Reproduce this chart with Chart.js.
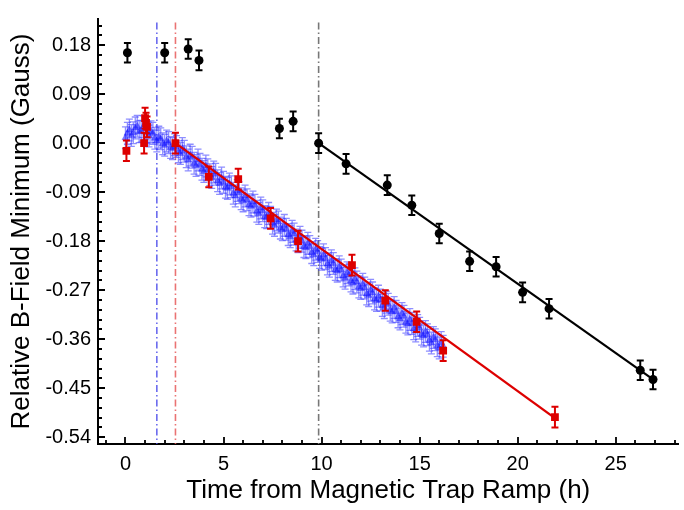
<!DOCTYPE html>
<html>
<head>
<meta charset="utf-8">
<script src="https://cdn.jsdelivr.net/npm/chart.js@4"></script>
<style>
  body { margin: 0; background: #fff; }
</style>
</head>
<body>
<canvas id="chart" width="684" height="510"></canvas>
<script>
// data
const blueX = [0.0, 0.1, 0.2, 0.3, 0.4, 0.5, 0.6, 0.7, 0.8, 0.9, 1.0, 1.1, 1.2, 1.3, 1.4, 1.5, 1.6, 1.7, 1.8, 1.9,
  2.0, 2.1, 2.2, 2.3, 2.4, 2.5, 2.6, 2.7, 2.8, 2.9, 3.0, 3.1, 3.2, 3.3, 3.4, 3.5, 3.6, 3.7, 3.8, 3.9,
  4.0, 4.1, 4.2, 4.3, 4.4, 4.5, 4.6, 4.7, 4.8, 4.9, 5.0, 5.1, 5.2, 5.3, 5.4, 5.5, 5.6, 5.7, 5.8, 5.9,
  6.0, 6.1, 6.2, 6.3, 6.4, 6.5, 6.6, 6.7, 6.8, 6.9, 7.0, 7.1, 7.2, 7.3, 7.4, 7.5, 7.6, 7.7, 7.8, 7.9,
  8.0, 8.1, 8.2, 8.3, 8.4, 8.5, 8.6, 8.7, 8.8, 8.9, 9.0, 9.1, 9.2, 9.3, 9.4, 9.5, 9.6, 9.7, 9.8, 9.9,
  10.0, 10.1, 10.2, 10.3, 10.4, 10.5, 10.6, 10.7, 10.8, 10.9, 11.0, 11.1, 11.2, 11.3, 11.4, 11.5, 11.6, 11.7, 11.8, 11.9,
  12.0, 12.1, 12.2, 12.3, 12.4, 12.5, 12.6, 12.7, 12.8, 12.9, 13.0, 13.1, 13.2, 13.3, 13.4, 13.5, 13.6, 13.7, 13.8, 13.9,
  14.0, 14.1, 14.2, 14.3, 14.4, 14.5, 14.6, 14.7, 14.8, 14.9, 15.0, 15.1, 15.2, 15.3, 15.4, 15.5, 15.6, 15.7, 15.8, 15.9,
  16.0, 16.1, 16.2];
const blueY = [0.010, 0.018, 0.024, 0.014, 0.019, 0.028, 0.031, 0.021, 0.022, 0.030, 0.027, 0.020, 0.013, 0.021, 0.018, 0.009, 0.004, 0.011, 0.008, -0.001,
  -0.004, 0.004, 0.001, -0.008, -0.010, -0.003, -0.006, -0.016, -0.019, -0.010, -0.015, -0.025, -0.031, -0.022, -0.026, -0.037, -0.041, -0.031, -0.039, -0.048,
  -0.052, -0.042, -0.049, -0.058, -0.063, -0.053, -0.057, -0.069, -0.074, -0.064, -0.072, -0.081, -0.083, -0.075, -0.080, -0.092, -0.097, -0.087, -0.091, -0.102,
  -0.106, -0.097, -0.104, -0.113, -0.116, -0.108, -0.114, -0.125, -0.129, -0.119, -0.124, -0.135, -0.137, -0.129, -0.136, -0.147, -0.151, -0.141, -0.145, -0.156,
  -0.159, -0.151, -0.158, -0.168, -0.172, -0.162, -0.167, -0.178, -0.181, -0.173, -0.180, -0.190, -0.192, -0.184, -0.190, -0.201, -0.205, -0.195, -0.199, -0.210,
  -0.213, -0.205, -0.212, -0.222, -0.226, -0.216, -0.221, -0.232, -0.235, -0.227, -0.233, -0.244, -0.248, -0.238, -0.242, -0.253, -0.257, -0.249, -0.255, -0.264,
  -0.267, -0.259, -0.266, -0.277, -0.280, -0.270, -0.275, -0.286, -0.289, -0.281, -0.288, -0.298, -0.302, -0.292, -0.296, -0.307, -0.310, -0.302, -0.309, -0.319,
  -0.323, -0.313, -0.318, -0.329, -0.332, -0.324, -0.331, -0.341, -0.345, -0.335, -0.340, -0.351, -0.354, -0.346, -0.352, -0.362, -0.367, -0.357, -0.361, -0.372,
  -0.376, -0.366, -0.373];
const blueErr = 0.02;

const redX = [0.05, 0.95, 1.0, 1.1, 1.05, 2.55, 4.25, 5.75, 7.4, 8.8, 11.55, 13.25, 14.85, 16.2, 21.9];
const redY = [-0.014, 0.0, 0.046, 0.030, 0.037, 0.0, -0.062, -0.066, -0.138, -0.180, -0.224, -0.289, -0.328, -0.381, -0.503];
const redErr = 0.019;

const blackX = [0.1, 2.0, 3.2, 3.75, 7.85, 8.55, 9.85, 11.25, 13.35, 14.6, 16.0, 17.55, 18.9, 20.25, 21.6, 26.25, 26.9];
const blackY = [0.166, 0.166, 0.173, 0.152, 0.027, 0.040, 0.0, -0.038, -0.077, -0.114, -0.166, -0.217, -0.227, -0.274, -0.304, -0.417, -0.434];
const blackErr = 0.018;

// fitted lines (start / end)
const redFitX = [2.55, 21.9];
const redFitY = [0.0, -0.505];
const blackFitX = [9.85, 26.9];
const blackFitY = [0.0, -0.434];

// dash-dot markers
const vlineX = [1.6, 2.55, 9.85];
const vlineColors = ['rgba(80,80,235,0.85)', 'rgba(230,90,90,0.85)', '#777777'];

const xMajor = [0, 5, 10, 15, 20, 25];
const yMajor = [0.18, 0.09, 0.00, -0.09, -0.18, -0.27, -0.36, -0.45, -0.54];

const X_MIN = -1.4, X_MAX = 28.2;
const Y_MIN = -0.5525, Y_MAX = 0.228;

function pts(xs, ys) {
  return xs.map((x, i) => ({ x: x, y: ys[i] }));
}

// error bars, drawn just under each dataset's markers
const errorBars = {
  id: 'errorBars',
  beforeDatasetDraw(chart, args) {
    const ds = chart.data.datasets[args.index];
    if (ds.errY == null) return;
    const xs = chart.scales.x, ys = chart.scales.y;
    const ctx = chart.ctx;
    ctx.save();
    ctx.strokeStyle = ds.errColor;
    ctx.lineWidth = ds.errWidth;
    ds.data.forEach(p => {
      const px = xs.getPixelForValue(p.x);
      const top = ys.getPixelForValue(p.y + ds.errY);
      const bot = ys.getPixelForValue(p.y - ds.errY);
      const c = ds.capHalf;
      ctx.beginPath();
      ctx.moveTo(px, top); ctx.lineTo(px, bot);
      ctx.moveTo(px - c, top); ctx.lineTo(px + c, top);
      ctx.moveTo(px - c, bot); ctx.lineTo(px + c, bot);
      ctx.stroke();
    });
    ctx.restore();
  }
};

// inward tick marks
const innerTicks = {
  id: 'innerTicks',
  afterDraw(chart) {
    const ctx = chart.ctx;
    const xs = chart.scales.x, ys = chart.scales.y;
    const area = chart.chartArea;
    ctx.save();
    ctx.strokeStyle = '#000';
    ctx.lineWidth = 1.8;
    ctx.beginPath();
    xs.ticks.forEach(t => {
      const px = Math.round(xs.getPixelForValue(t.value));
      const len = xMajor.includes(t.value) ? 7 : 4;
      ctx.moveTo(px, area.bottom); ctx.lineTo(px, area.bottom - len);
    });
    ys.ticks.forEach(t => {
      const py = Math.round(ys.getPixelForValue(t.value));
      const len = t.major ? 7 : 4;
      ctx.moveTo(area.left, py); ctx.lineTo(area.left + len, py);
    });
    ctx.stroke();
    ctx.restore();
  }
};

Chart.defaults.font.family = "'Liberation Sans', Arial, sans-serif";
Chart.defaults.color = '#000';

const vlineSets = vlineX.map((x, i) => ({
  type: 'line',
  data: [{ x: x, y: 0.2215 }, { x: x, y: Y_MIN }],
  borderColor: vlineColors[i],
  borderWidth: 1.6,
  borderDash: [7, 3, 1.5, 3],
  pointRadius: 0,
  order: 10
}));

const ctx = document.getElementById('chart').getContext('2d');
new Chart(ctx, {
  type: 'scatter',
  data: {
    datasets: [
      ...vlineSets,
      {
        data: pts(blueX, blueY),
        pointStyle: 'triangle',
        pointRadius: 4,
        backgroundColor: 'rgba(20,20,255,0.55)',
        borderColor: 'rgba(20,20,255,0.55)',
        borderWidth: 0.5,
        errY: blueErr, errColor: 'rgba(50,50,255,0.55)', errWidth: 1.3, capHalf: 3.5,
        order: 8
      },
      {
        type: 'line',
        data: pts(redFitX, redFitY),
        borderColor: '#dd0000',
        borderWidth: 2.4,
        pointRadius: 0,
        order: 6
      },
      {
        data: pts(redX, redY),
        pointStyle: 'rect',
        pointRadius: 5.5,
        backgroundColor: '#dd0000',
        borderColor: '#dd0000',
        borderWidth: 0,
        errY: redErr, errColor: '#dd0000', errWidth: 2, capHalf: 3.5,
        order: 5
      },
      {
        type: 'line',
        data: pts(blackFitX, blackFitY),
        borderColor: '#000',
        borderWidth: 2.2,
        pointRadius: 0,
        order: 3
      },
      {
        data: pts(blackX, blackY),
        pointStyle: 'circle',
        pointRadius: 4.5,
        backgroundColor: '#000',
        borderColor: '#000',
        borderWidth: 0,
        errY: blackErr, errColor: '#000', errWidth: 2, capHalf: 3.5,
        order: 2
      }
    ]
  },
  options: {
    responsive: false,
    animation: false,
    layout: { padding: { top: 8, right: 0, left: 0, bottom: 0 } },
    plugins: { legend: { display: false }, tooltip: { enabled: false } },
    scales: {
      x: {
        type: 'linear',
        min: X_MIN, max: X_MAX,
        afterFit(scale) { scale.height = 66; },
        afterBuildTicks(scale) {
          const t = [];
          for (let v = -1; v <= 28; v++) t.push({ value: v });
          scale.ticks = t;
        },
        grid: { display: false, drawTicks: false },
        border: { display: true, color: '#000', width: 2 },
        ticks: {
          autoSkip: false, maxRotation: 0, padding: 8,
          font: { size: 20 },
          callback: v => (xMajor.includes(v) ? String(v) : '')
        },
        title: {
          display: true,
          text: 'Time from Magnetic Trap Ramp (h)',
          font: { size: 26 },
          padding: { top: 0, bottom: 4 }
        }
      },
      y: {
        type: 'linear',
        min: Y_MIN, max: Y_MAX,
        afterFit(scale) { scale.width = 98; },
        afterBuildTicks(scale) {
          const t = [];
          for (let k = 0; k <= 42; k++) {
            const v = Math.round((-0.54 + k * 0.018) * 1000) / 1000;
            if (v > Y_MAX) break;
            t.push({ value: v, major: k % 5 === 0 });
          }
          scale.ticks = t;
        },
        grid: { display: false, drawTicks: false },
        border: { display: true, color: '#000', width: 2 },
        ticks: {
          autoSkip: false, padding: 7,
          font: { size: 20 },
          callback: (v, i, ticks) => (ticks[i].major ? v.toFixed(2) : '')
        },
        title: {
          display: true,
          text: 'Relative B-Field Minimum (Gauss)',
          font: { size: 26 },
          padding: { top: 6, bottom: 0 }
        }
      }
    }
  },
  plugins: [errorBars, innerTicks]
});
</script>
</body>
</html>
